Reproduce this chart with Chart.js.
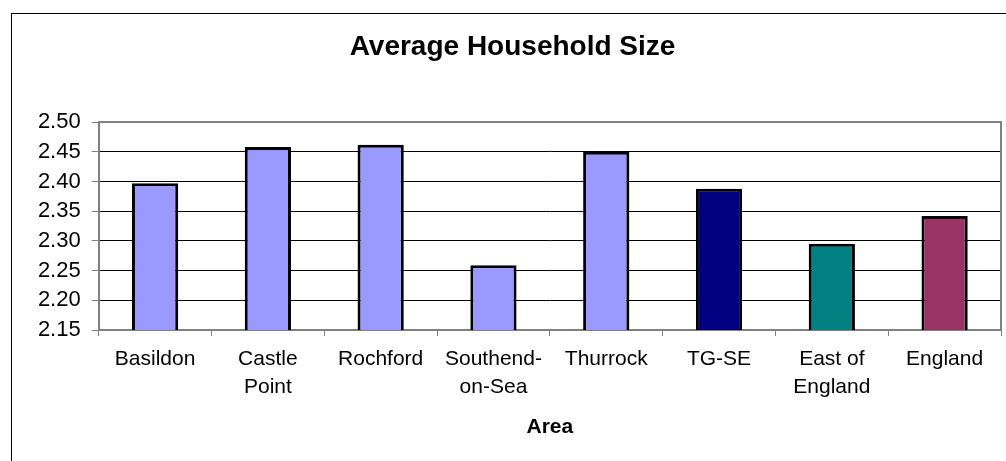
<!DOCTYPE html>
<html>
<head>
<meta charset="utf-8">
<script src="https://cdn.jsdelivr.net/npm/chart.js@4"></script>
<style>
  html, body { margin: 0; padding: 0; background: #fff; overflow: hidden; }
  #frame {
    position: absolute; left: 11px; top: 13px;
    width: 1100px; height: 600px;
    border: 1px solid #000;
  }
  #wrap { position: absolute; left: 0; top: 0; width: 1006px; height: 461px; }
</style>
</head>
<body>
<div id="frame"></div>
<div id="wrap"><canvas id="householdChart"></canvas></div>
<script>
// Chart data
const areas = [
  'Basildon', ['Castle', 'Point'], 'Rochford', ['Southend-', 'on-Sea'],
  'Thurrock', 'TG-SE', ['East of', 'England'], 'England'
];
const householdSize = [2.397, 2.458, 2.462, 2.259, 2.450, 2.388, 2.295, 2.342];
const barColors = ['#9999FF', '#9999FF', '#9999FF', '#9999FF', '#9999FF', '#000080', '#008080', '#993366'];
const yTicks = [2.15, 2.20, 2.25, 2.30, 2.35, 2.40, 2.45, 2.50];

Chart.defaults.color = '#000';
Chart.defaults.font.family = "'Liberation Sans', Arial, sans-serif";

// gray frame on top and right of the plot area
const plotFrame = {
  id: 'plotFrame',
  afterDraw(chart) {
    const { ctx, chartArea: a } = chart;
    ctx.save();
    ctx.strokeStyle = '#808080';
    ctx.lineWidth = 2;
    ctx.beginPath();
    ctx.moveTo(a.left, a.top);
    ctx.lineTo(a.right, a.top);
    ctx.lineTo(a.right, a.bottom);
    ctx.stroke();
    ctx.restore();
  }
};

const ctx = document.getElementById('householdChart');
new Chart(ctx, {
  type: 'bar',
  data: {
    labels: areas,
    datasets: [
      {
        data: householdSize,
        backgroundColor: barColors,
        borderColor: '#000',
        borderWidth: 3,
        barPercentage: 0.41,
        categoryPercentage: 1,
      },
    ],
  },
  options: {
    responsive: true,
    maintainAspectRatio: false,
    animation: false,
    layout: {
      padding: { left: 24, right: 5, top: 0, bottom: 0 },
    },
    plugins: {
      legend: { display: false },
      tooltip: { enabled: false },
      title: {
        display: true,
        text: 'Average Household Size',
        font: { size: 28, weight: 'bold' },
        color: '#000',
        padding: { top: 30.5, bottom: 58 },
      },
    },
    scales: {
      x: {
        grid: {
          drawOnChartArea: false,
          drawTicks: true,
          tickLength: 6,
          color: '#808080',
        },
        border: { color: '#808080', width: 2 },
        ticks: {
          font: { size: 21, lineHeight: 1.3 },
          padding: 10,
          maxRotation: 0,
          autoSkip: false,
        },
        title: {
          display: true,
          text: 'Area',
          font: { size: 21, weight: 'bold' },
          padding: { top: 10, bottom: 21 },
        },
        afterFit(scale) {
          scale.height = 131;
        },
      },
      y: {
        min: 2.15,
        max: 2.5,
        afterBuildTicks(scale) {
          scale.ticks = yTicks.map((v) => ({ value: v }));
        },
        grid: {
          color: (c) => (c.tick && c.tick.value === 2.5 ? 'rgba(0,0,0,0)' : '#000'),
          tickColor: '#808080',
          tickLength: 7,
          lineWidth: 1,
        },
        border: { color: '#808080', width: 2 },
        ticks: {
          font: { size: 22 },
          padding: 11,
          callback: (v) => Number(v).toFixed(2),
        },
        afterFit(scale) {
          scale.width = 74.7;
        },
      },
    },
  },
  plugins: [plotFrame],
});
</script>
</body>
</html>
